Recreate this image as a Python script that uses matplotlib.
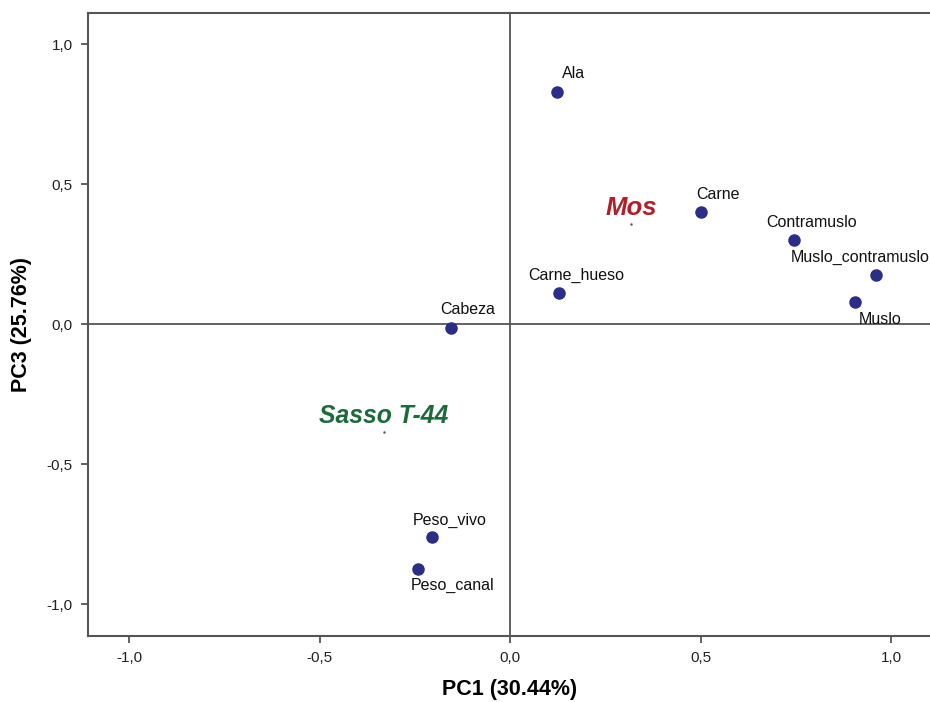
import matplotlib.pyplot as plt

plt.rcParams['font.family'] = ['Liberation Sans', 'DejaVu Sans']

# loadings
labels = ['Ala', 'Carne', 'Contramuslo', 'Muslo_contramuslo', 'Muslo',
          'Carne_hueso', 'Cabeza', 'Peso_vivo', 'Peso_canal']
pc1 = [0.123, 0.501, 0.745, 0.961, 0.906, 0.129, -0.155, -0.205, -0.241]
pc3 = [0.829, 0.400, 0.300, 0.175, 0.079, 0.111, -0.014, -0.761, -0.875]

# group centroids
groups = ['Mos', 'Sasso T-44']
grp_x = [0.318, -0.331]
grp_y = [0.357, -0.386]

# label offsets in pixels (dx, dy)
offs = [(17, 18), (17, 18), (18, 18), (-16, 18), (25, -18),
        (17, 18), (17, 18), (18, 17), (34, -16)]

fig = plt.figure(figsize=(9.3, 7.02), dpi=100)
ax = fig.add_axes([88/930, 66/702, 1 - 88/930, (636-13)/702])

ax.plot(pc1, pc3, 'o', color='#2b2e86', markersize=8, zorder=3)
for lab, x, y, (dx, dy) in zip(labels, pc1, pc3, offs):
    ax.annotate(lab, (x, y), xytext=(dx, dy), textcoords='offset pixels',
                ha='center', va='center', fontsize=11.5, color='#111111')

grp_col = ['#b0202a', '#1d6b3b']
grp_size = [18.5, 17.8]
for g, x, y, c, fs in zip(groups, grp_x, grp_y, grp_col, grp_size):
    ax.plot(x, y, '.', color='#555555', markersize=1.5)
    ax.annotate(g, (x, y), xytext=(0, 16), textcoords='offset pixels',
                ha='center', va='center', fontsize=fs, fontweight='bold',
                fontstyle='italic', color=c)

ax.axhline(0, color='#555555', lw=1.3, zorder=1)
ax.axvline(0, color='#555555', lw=1.3, zorder=1)

ax.set_xlim(-1.108, 1.102)
ax.set_ylim(-1.114, 1.111)
ticks = [-1.0, -0.5, 0.0, 0.5, 1.0]
ax.set_xticks(ticks)
ax.set_yticks(ticks)
ax.set_xticklabels([f'{t:.1f}'.replace('.', ',') for t in ticks])
ax.set_yticklabels([f'{t:.1f}'.replace('.', ',') for t in ticks])
ax.tick_params(direction='out', length=5, width=1.3, color='#555555',
               labelsize=11, labelcolor='#222222', pad=6)
for s in ['top', 'left', 'bottom']:
    ax.spines[s].set_color('#555555')
    ax.spines[s].set_linewidth(1.5)
ax.spines['right'].set_visible(False)

fig.text(510/930, 1 - 690/702, 'PC1 (30.44%)', fontsize=15.5, fontweight='bold',
         ha='center', va='center')
fig.text(22/930, 1 - 324/702, 'PC3 (25.76%)', fontsize=15.5, fontweight='bold',
         ha='center', va='center', rotation=90)

fig.savefig('out.png', dpi=100)
